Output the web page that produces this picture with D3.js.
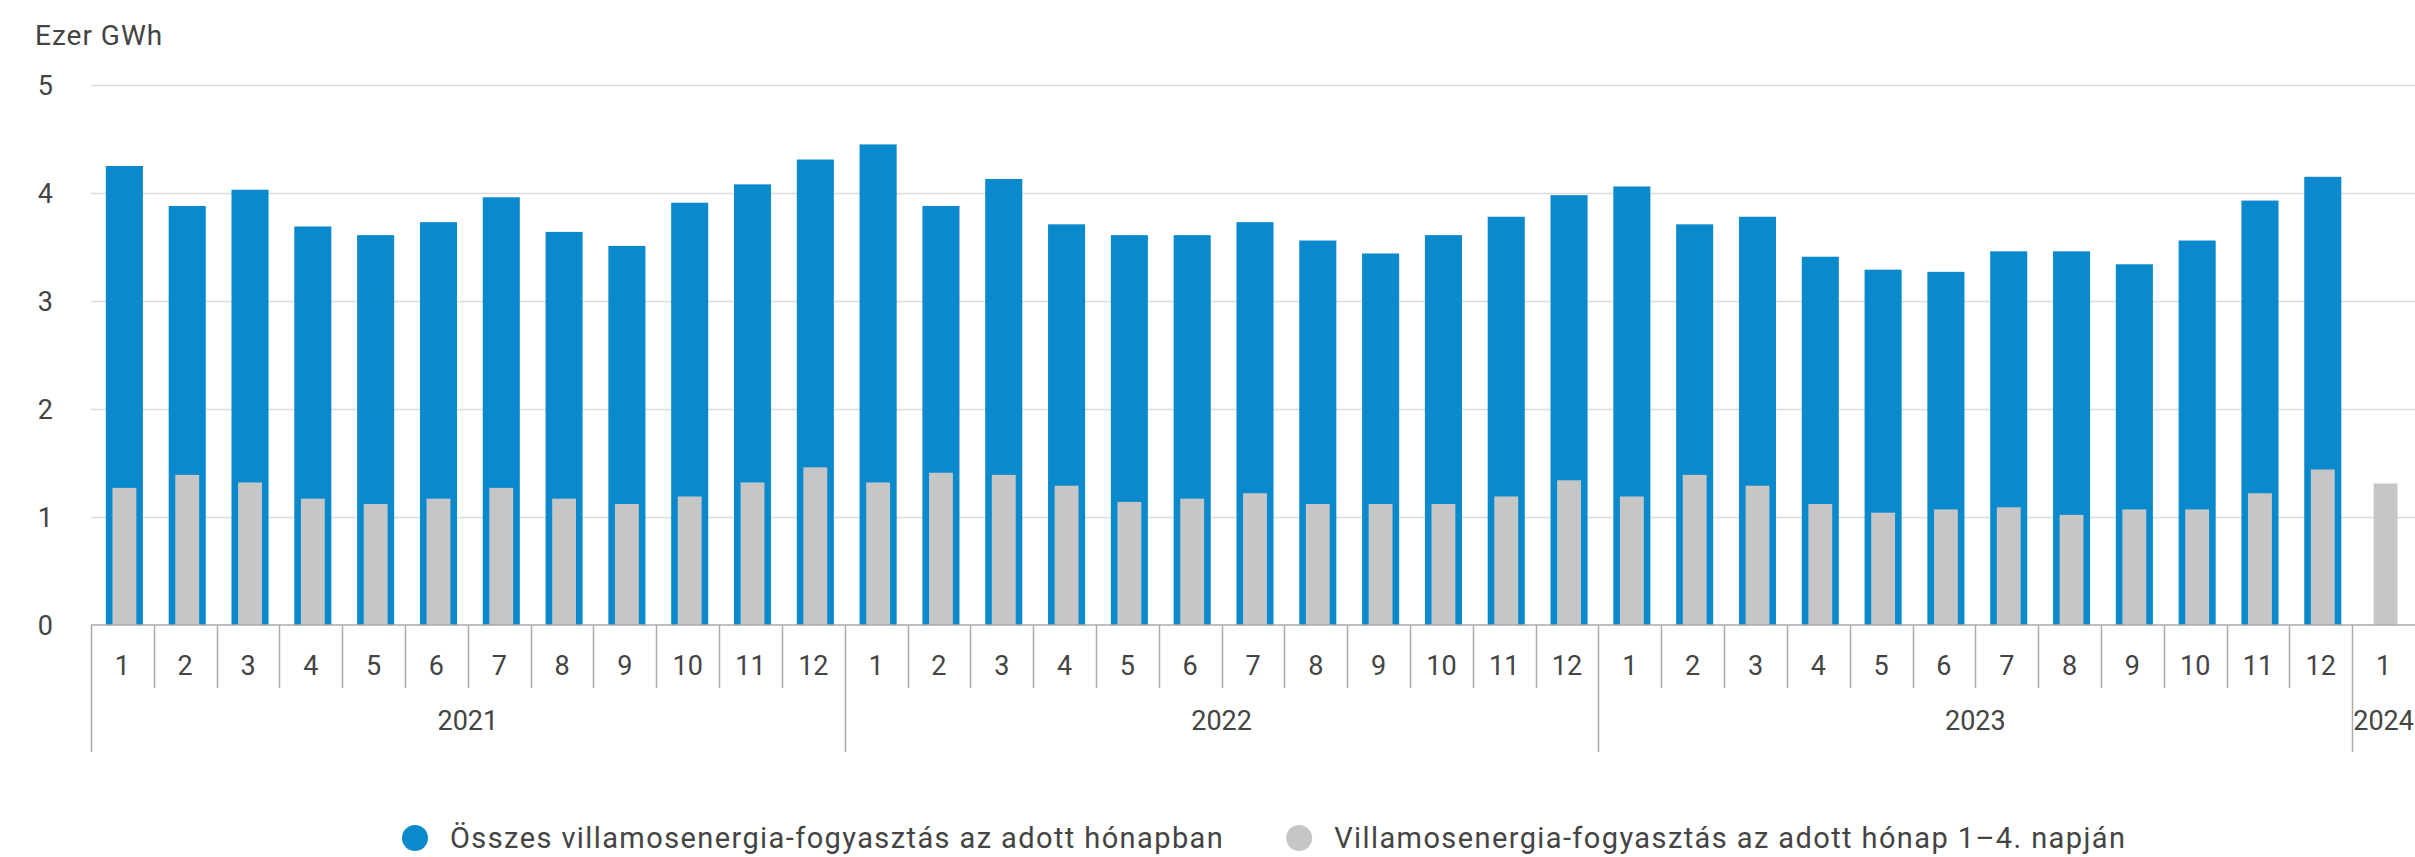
<!DOCTYPE html>
<html>
<head>
<meta charset="utf-8">
<script src="https://cdn.jsdelivr.net/npm/d3@7"></script>
<style>
  body { margin: 0; background: #fff; }
  text { font-family: Roboto, "Noto Sans", sans-serif; fill: #444; }
</style>
</head>
<body>
<script>
// havi adatok, ezer GWh
var categories = [
  "2021-1","2021-2","2021-3","2021-4","2021-5","2021-6","2021-7","2021-8","2021-9","2021-10","2021-11","2021-12",
  "2022-1","2022-2","2022-3","2022-4","2022-5","2022-6","2022-7","2022-8","2022-9","2022-10","2022-11","2022-12",
  "2023-1","2023-2","2023-3","2023-4","2023-5","2023-6","2023-7","2023-8","2023-9","2023-10","2023-11","2023-12",
  "2024-1"
];
var years = ["2021", "2022", "2023", "2024"];
var total = [
  4.25, 3.88, 4.03, 3.69, 3.61, 3.73, 3.96, 3.64, 3.51, 3.91, 4.08, 4.31,
  4.45, 3.88, 4.13, 3.71, 3.61, 3.61, 3.73, 3.56, 3.44, 3.61, 3.78, 3.98,
  4.06, 3.71, 3.78, 3.41, 3.29, 3.27, 3.46, 3.46, 3.34, 3.56, 3.93, 4.15,
  null
];
var firstDays = [
  1.27, 1.39, 1.32, 1.17, 1.12, 1.17, 1.27, 1.17, 1.12, 1.19, 1.32, 1.46,
  1.32, 1.41, 1.39, 1.29, 1.14, 1.17, 1.22, 1.12, 1.12, 1.12, 1.19, 1.34,
  1.19, 1.39, 1.29, 1.12, 1.04, 1.07, 1.09, 1.02, 1.07, 1.07, 1.22, 1.44,
  1.31
];
var yTicks = [0, 1, 2, 3, 4, 5];
var seriesNames = [
  "Összes villamosenergia-fogyasztás az adott hónapban",
  "Villamosenergia-fogyasztás az adott hónap 1–4. napján"
];
var colors = ["#0a89cc", "#c6c6c6"];

var W = 2415, H = 857;
var margin = {top: 85, right: 0, bottom: 232, left: 91};
var plotLeft = margin.left, plotRight = W - margin.right;
var plotTop = margin.top, plotBottom = H - margin.bottom;

var svg = d3.select("body").append("svg")
  .attr("width", W)
  .attr("height", H);

var x = d3.scaleBand().domain(categories).range([plotLeft, plotRight]);
var y = d3.scaleLinear().domain([0, 5]).range([plotBottom, plotTop]);
var bw = x.bandwidth();

// rácsvonalak
svg.append("g").selectAll("line")
  .data(yTicks.filter(function(d) { return d > 0; }))
  .enter().append("line")
    .attr("x1", plotLeft).attr("x2", plotRight)
    .attr("y1", function(d) { return Math.round(y(d)) + 0.5; })
    .attr("y2", function(d) { return Math.round(y(d)) + 0.5; })
    .attr("stroke", "#dcdcdc")
    .attr("stroke-width", 1.5);

svg.append("g").selectAll("text")
  .data(yTicks)
  .enter().append("text")
    .attr("x", 53)
    .attr("y", function(d) { return y(d); })
    .attr("dy", "0.36em")
    .attr("text-anchor", "end")
    .style("font-size", "27px")
    .text(function(d) { return d; });

svg.append("text")
  .attr("x", 35)
  .attr("y", 45)
  .style("font-size", "28px")
  .style("letter-spacing", "1px")
  .text("Ezer GWh");

var data = categories.map(function(c, i) {
  return {key: c, total: total[i], first: firstDays[i]};
});

// oszlopok
var off = 2;
svg.append("g").selectAll("rect")
  .data(data.filter(function(d) { return d.total != null; }))
  .enter().append("rect")
    .attr("x", function(d) { return x(d.key) + off + (bw - bw * 0.59) / 2; })
    .attr("width", bw * 0.59)
    .attr("y", function(d) { return y(d.total); })
    .attr("height", function(d) { return y(0) - y(d.total); })
    .attr("fill", colors[0]);

svg.append("g").selectAll("rect")
  .data(data)
  .enter().append("rect")
    .attr("x", function(d) { return x(d.key) + off + (bw - bw * 0.38) / 2; })
    .attr("width", bw * 0.38)
    .attr("y", function(d) { return y(d.first); })
    .attr("height", function(d) { return y(0) - y(d.first); })
    .attr("fill", colors[1]);

// x tengely
var axisG = svg.append("g");
axisG.append("line")
  .attr("x1", plotLeft).attr("x2", plotRight)
  .attr("y1", y(0)).attr("y2", y(0))
  .attr("stroke", "#aaa").attr("stroke-width", 1.5);

axisG.selectAll("line.sep")
  .data(categories)
  .enter().append("line")
    .attr("class", "sep")
    .attr("x1", function(d) { return Math.round(x(d)) + 0.5; })
    .attr("x2", function(d) { return Math.round(x(d)) + 0.5; })
    .attr("y1", y(0))
    .attr("y2", function(d) { return d.split("-")[1] === "1" ? 752 : 688; })
    .attr("stroke", "#aaa").attr("stroke-width", 1.5);

axisG.selectAll("text.month")
  .data(categories)
  .enter().append("text")
    .attr("class", "month")
    .attr("x", function(d) { return x(d) + bw / 2; })
    .attr("y", 675)
    .attr("text-anchor", "middle")
    .style("font-size", "27px")
    .text(function(d) { return d.split("-")[1]; });

axisG.selectAll("text.year")
  .data(years)
  .enter().append("text")
    .attr("class", "year")
    .attr("x", function(yr) {
      var ms = categories.filter(function(c) { return c.split("-")[0] === yr; });
      return (x(ms[0]) + x(ms[ms.length - 1]) + bw) / 2;
    })
    .attr("y", 730)
    .attr("text-anchor", "middle")
    .style("font-size", "27px")
    .text(function(d) { return d; });

// jelmagyarázat
var legend = svg.append("g");
var lx = 415;
seriesNames.forEach(function(name, i) {
  legend.append("circle")
    .attr("cx", lx).attr("cy", 838).attr("r", 13)
    .attr("fill", colors[i]);
  var t = legend.append("text")
    .attr("x", lx + 35)
    .attr("y", 848)
    .style("font-size", "29px")
    .style("letter-spacing", "1.4px")
    .text(name);
  lx += 35 + t.node().getComputedTextLength() + 75;
});
</script>
</body>
</html>
